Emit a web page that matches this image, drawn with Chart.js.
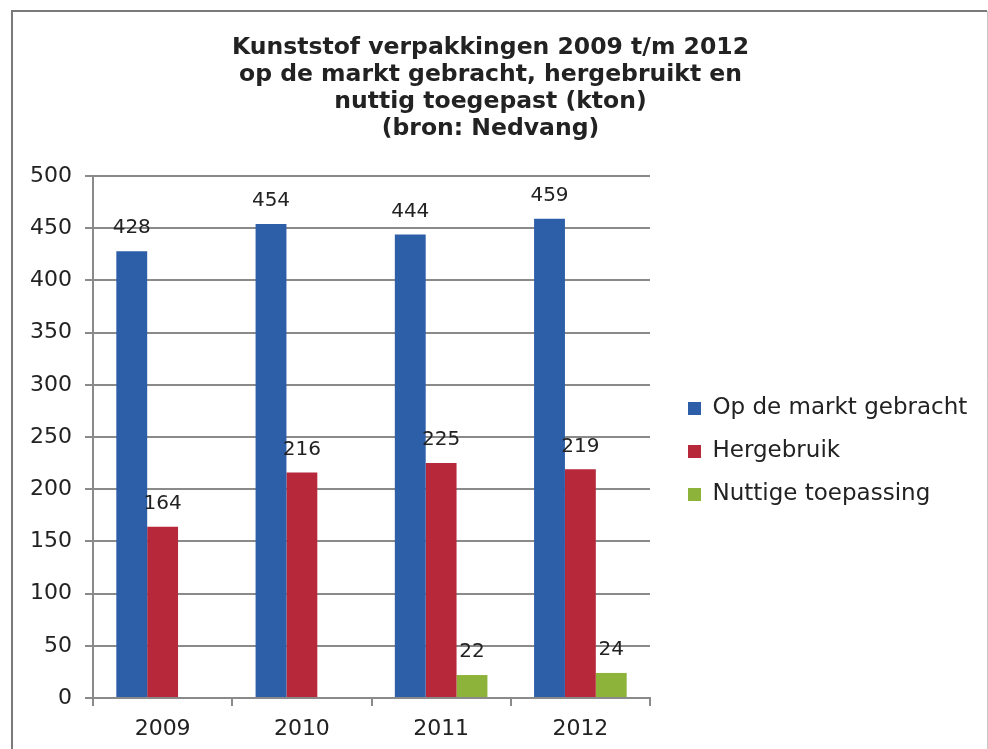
<!DOCTYPE html>
<html>
<head>
<meta charset="utf-8">
<script src="https://cdn.jsdelivr.net/npm/chart.js@4"></script>
<style>
  html, body { margin: 0; padding: 0; background: #ffffff; overflow: hidden; }
  #wrap { width: 988px; height: 749px; }
  canvas { display: block; }
</style>
</head>
<body>
<div id="wrap"><canvas id="c" width="988" height="749"></canvas></div>
<script>
const categories = ['2009', '2010', '2011', '2012'];
const opDeMarkt = [428, 454, 444, 459];
const hergebruik = [164, 216, 225, 219];
const nuttigeToepassing = [null, null, 22, 24];
const seriesNames = ['Op de markt gebracht', 'Hergebruik', 'Nuttige toepassing'];
const titleLines = ['Kunststof verpakkingen 2009 t/m 2012', 'op de markt gebracht, hergebruikt en', 'nuttig toegepast (kton)', '(bron: Nedvang)'];
const yTicks = [0, 50, 100, 150, 200, 250, 300, 350, 400, 450, 500];

const FONT = "'DejaVu Sans', Verdana, sans-serif";
const TEXT = '#222222';
const GRID = '#8a8a8a';

const frame = {
  id: 'frame',
  beforeDraw(chart) {
    const ctx = chart.ctx;
    ctx.save();
    ctx.fillStyle = '#ffffff';
    ctx.fillRect(0, 0, chart.width, chart.height);
    ctx.strokeStyle = '#7a7a7a';
    ctx.lineWidth = 2;
    ctx.beginPath();
    ctx.moveTo(12, 760);
    ctx.lineTo(12, 11);
    ctx.lineTo(987, 11);
    ctx.stroke();
    ctx.strokeStyle = '#c8c8c8';
    ctx.lineWidth = 1;
    ctx.beginPath();
    ctx.moveTo(987.5, 11);
    ctx.lineTo(987.5, 760);
    ctx.stroke();
    ctx.restore();
  }
};

const valueLabels = {
  id: 'valueLabels',
  afterDatasetsDraw(chart) {
    const ctx = chart.ctx;
    ctx.save();
    ctx.font = '20px ' + FONT;
    ctx.fillStyle = TEXT;
    ctx.textAlign = 'center';
    ctx.textBaseline = 'middle';
    chart.data.datasets.forEach((ds, di) => {
      const meta = chart.getDatasetMeta(di);
      meta.data.forEach((el, i) => {
        const v = ds.data[i];
        if (v === null || v === undefined) return;
        ctx.fillText(String(v), el.x, el.y - 23);
      });
    });
    ctx.restore();
  }
};

new Chart(document.getElementById('c'), {
  type: 'bar',
  data: {
    labels: categories,
    datasets: [
      { label: seriesNames[0], data: opDeMarkt, backgroundColor: '#2d5ea8', borderColor: '#2d5ea8' },
      { label: seriesNames[1], data: hergebruik, backgroundColor: '#b7283b', borderColor: '#b7283b' },
      { label: seriesNames[2], data: nuttigeToepassing, backgroundColor: '#8db33a', borderColor: '#8db33a' }
    ]
  },
  options: {
    responsive: false,
    animation: false,
    devicePixelRatio: 1,
    layout: { padding: { top: 12, left: 12, right: 19, bottom: 7 } },
    datasets: { bar: { barPercentage: 1.0, categoryPercentage: 0.665 } },
    plugins: {
      title: {
        display: true,
        text: titleLines,
        color: TEXT,
        font: { family: FONT, size: 23.5, weight: 'bold', lineHeight: 1.149 },
        padding: { top: 22, bottom: 34 }
      },
      legend: {
        display: true,
        position: 'right',
        fullSize: false,
        maxWidth: 301,
        title: { display: true, text: ' ', font: { size: 10, lineHeight: 1.2 }, padding: 8.5 },
        labels: {
          color: TEXT,
          font: { family: FONT, size: 23 },
          boxWidth: 13,
          boxHeight: 13,
          padding: 20
        }
      },
      tooltip: { enabled: false }
    },
    scales: {
      x: {
        offset: true,
        afterFit(scale) { scale.height = 44; },
        grid: { display: true, drawOnChartArea: false, drawTicks: true, tickLength: 8, color: GRID, lineWidth: 2, offset: true },
        border: { display: true, color: GRID, width: 2 },
        ticks: { color: TEXT, font: { family: FONT, size: 22 }, padding: 10 }
      },
      y: {
        min: 0,
        max: 500,
        afterBuildTicks(scale) { scale.ticks = yTicks.map(v => ({ value: v })); },
        afterFit(scale) { scale.width = 81; },
        grid: { color: GRID, lineWidth: 2, tickLength: 8, drawTicks: true },
        border: { display: true, color: GRID, width: 2 },
        ticks: { color: TEXT, font: { family: FONT, size: 22 }, padding: 13 }
      },
      y2: {
        position: 'right',
        display: true,
        grid: { display: false, drawTicks: false },
        border: { display: false },
        ticks: { display: false },
        afterFit(scale) { scale.width = 18; }
      }
    }
  },
  plugins: [frame, valueLabels]
});
</script>
</body>
</html>
